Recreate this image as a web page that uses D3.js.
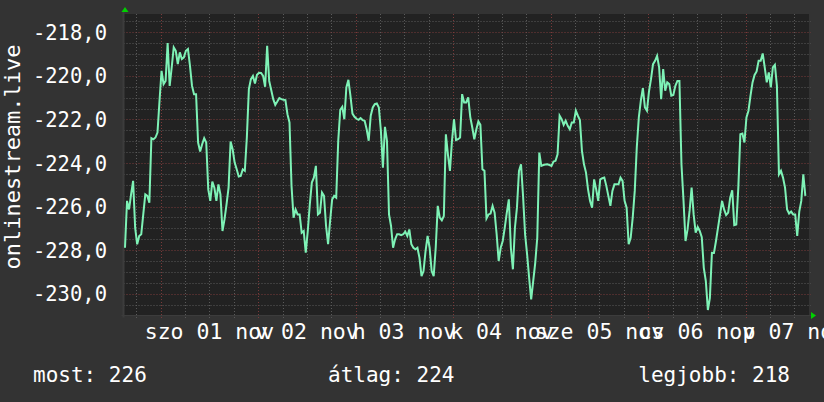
<!DOCTYPE html>
<html><head><meta charset="utf-8">
<script src="https://cdn.jsdelivr.net/npm/d3@7"></script>
<style>html,body{margin:0;padding:0;background:#333333;}svg{display:block}</style>
</head><body>
<svg id="chart" width="824" height="402"></svg>
<script>
// ---- data ----
const seriesName = "onlinestream.live";
const startTime = "2025-10-31T15:12:00Z";
const stepMinutes = 30;
const values = [
-227.89,-225.74,-226.13,-225.44,-224.82,-226.97,-227.73,-227.35,-227.27,-226.36,
-225.44,-225.51,-225.82,-222.86,-222.91,-222.83,-222.60,-221.14,-219.77,-220.38,
-220.23,-218.49,-220.46,-219.61,-218.69,-218.85,-219.46,-218.92,-219.23,-219.15,
-218.85,-218.77,-219.54,-220.46,-220.84,-220.84,-223.06,-223.47,-223.14,-222.86,
-223.06,-225.21,-225.74,-224.85,-225.13,-225.74,-224.98,-225.44,-227.12,-226.59,
-225.90,-225.13,-223.01,-223.37,-223.98,-224.29,-224.62,-224.59,-224.29,-224.36,
-222.83,-220.61,-220.15,-220.00,-220.35,-219.95,-219.86,-219.87,-220.00,-220.50,
-218.62,-220.23,-220.65,-221.07,-221.33,-221.18,-221.02,-221.07,-221.10,-221.11,
-221.76,-222.14,-225.05,-226.51,
-226.13,-226.36,-226.36,-227.20,-227.12,-228.12,-227.12,-225.90,-224.90,-224.67,
-224.13,-226.36,-226.28,-225.36,-225.51,-226.89,-227.73,-226.66,-225.67,-225.51,
-225.59,-222.98,-221.56,-221.42,-221.99,-220.53,-220.18,-220.91,-221.73,-221.88,
-221.97,-222.02,-221.94,-222.03,-222.06,-222.45,-222.98,-221.83,-221.45,-221.30,
-221.27,-221.45,-222.52,-224.21,-222.34,-222.98,-226.36,-226.89,-227.89,-227.50,
-227.27,-227.27,-227.31,-227.27,-227.15,-227.35,-227.05,-227.73,-227.89,-227.96,
-227.89,-228.35,-229.19,-228.96,-228.04,-227.35,-227.89,-228.96,-229.19,-227.89,
-225.97,-226.51,-226.63,-226.43,-222.68,-223.60,-224.36,-222.98,-221.99,-222.95,
-222.91,-222.83,-220.84,-221.22,
-221.22,-220.99,-221.88,-222.37,-222.91,-222.45,-222.09,-222.25,-224.29,-224.36,
-226.54,-226.36,-226.32,-225.97,-226.28,-227.27,-228.50,-227.89,-227.58,-226.97,
-226.28,-225.67,-227.89,-228.88,-226.97,-226.05,-224.36,-224.06,-225.51,-227.27,
-228.19,-229.27,-230.26,-229.42,-228.58,-227.43,-223.52,-224.13,-224.09,-224.07,
-224.06,-224.09,-224.13,-223.93,-223.90,-223.60,-221.83,-221.99,-222.25,-222.06,
-222.29,-222.45,-222.14,-222.14,-221.60,-221.83,-222.03,-223.44,-224.06,-224.44,
-225.21,-225.74,-226.05,-224.75,-225.21,-225.74,-224.75,-224.70,-224.67,-225.05,
-225.51,-225.97,-225.28,-224.98,-224.98,-224.98,-224.67,-224.82,-225.74,-226.05,
-227.73,-227.43,-226.51,-225.28,
-223.29,-221.91,-221.14,-220.56,-221.45,-221.60,-220.72,-220.15,-219.46,-219.31,
-219.08,-219.61,-221.07,-219.69,-220.68,-220.30,-220.38,-220.91,-220.88,-220.46,
-220.23,-220.23,-224.06,-225.71,-227.58,-227.05,-226.20,-225.13,-226.36,-227.20,
-226.94,-227.12,-227.40,-228.81,-229.42,-230.75,-230.19,-228.12,-228.13,-227.58,
-226.97,-226.36,-225.74,-226.13,-226.39,-226.28,-225.59,-225.25,-226.85,-226.82,
-225.13,-222.68,-222.65,-223.06,-221.91,-221.60,-220.91,-220.30,-219.96,-219.80,
-219.31,-219.31,-218.97,-219.61,-220.30,-219.84,-220.53,-219.61,-219.49,-220.46,
-224.52,-224.36,-224.67,-225.13,-226.13,-226.32,-226.23,-226.36,-226.36,-227.35,
-226.23,-225.74,-224.52,-225.51
];
const xDomain = ["2025-10-31T14:50:00Z", "2025-11-07T15:36:00Z"];
const yDomain = [-231.0, -217.16];
const yTicks = [-230, -228, -226, -224, -222, -220, -218];
const dayDates = ["2025-11-01","2025-11-02","2025-11-03","2025-11-04","2025-11-05","2025-11-06","2025-11-07"];
const dayLabels = ["szo 01 nov","v 02 nov","h 03 nov","k 04 nov","sze 05 nov","cs 06 nov","p 07 nov"];
const legendLabels = ["most", "átlag", "legjobb"];
const legendValues = [226, 224, 218];

(function () {
// ---- layout ----
const W = 824, H = 402;
const pL = 123.5, pR = 809, pT = 14, pB = 315.5;
const font = "'DejaVu Sans Mono', monospace";

const svg = d3.select("#chart");
const x = d3.scaleUtc().domain(xDomain.map(d => new Date(d))).range([pL, pR]);
const y = d3.scaleLinear().domain(yDomain).range([pB, pT]);

const t0 = new Date(startTime).getTime();
const data = values.map((v, i) => ({t: new Date(t0 + i * stepMinutes * 60000), v}));

svg.append("rect").attr("width", W).attr("height", H).attr("fill", "#333333");
svg.append("rect").attr("x", pL).attr("y", pT).attr("width", pR - pL).attr("height", pB - pT).attr("fill", "#222222");

// grid
const g = svg.append("g");
const minorY = d3.range(-231, -217, 0.5).filter(v => v > yDomain[0] && v < yDomain[1] && Math.abs(v % 2) > 1e-6);
g.selectAll(".hmin").data(minorY).join("line")
  .attr("x1", pL).attr("x2", pR + 2)
  .attr("y1", d => Math.round(y(d)) + 0.5).attr("y2", d => Math.round(y(d)) + 0.5)
  .attr("stroke", "#5a5a5a").attr("stroke-dasharray", "1,2");
const hours6 = d3.utcHour.every(6).range(x.domain()[0], x.domain()[1]).filter(d => d.getUTCHours() !== 0);
g.selectAll(".vmin").data(hours6).join("line")
  .attr("x1", d => Math.round(x(d)) + 0.5).attr("x2", d => Math.round(x(d)) + 0.5)
  .attr("y1", pT).attr("y2", pB + 3)
  .attr("stroke", "#5a5a5a").attr("stroke-dasharray", "1,2");
g.selectAll(".hmaj").data(yTicks).join("line")
  .attr("x1", pL).attr("x2", pR + 2)
  .attr("y1", d => Math.round(y(d)) + 0.5).attr("y2", d => Math.round(y(d)) + 0.5)
  .attr("stroke", "#7a3a3a").attr("stroke-dasharray", "1,2");
g.selectAll(".vmaj").data(dayDates.map(d => new Date(d + "T00:00:00Z"))).join("line")
  .attr("x1", d => Math.round(x(d)) + 0.5).attr("x2", d => Math.round(x(d)) + 0.5)
  .attr("y1", pT).attr("y2", pB + 3)
  .attr("stroke", "#7a3a3a").attr("stroke-dasharray", "1,2");

// axis lines
svg.append("line").attr("x1", pL).attr("x2", pL).attr("y1", pT - 2).attr("y2", pB + 2).attr("stroke", "#3c3c3c").attr("stroke-width", 2);
svg.append("line").attr("x1", pL - 2).attr("x2", pR + 2).attr("y1", pB).attr("y2", pB).attr("stroke", "#3c3c3c").attr("stroke-width", 1);

// arrows
svg.append("path").attr("d", `M${pL - 2},${pT - 2} L${pL + 5},${pT - 2} L${pL + 1.5},${pT - 7} Z`).attr("fill", "#00d000");
svg.append("path").attr("d", `M${pR + 2},${pB - 3.5} L${pR + 2},${pB + 3.5} L${pR + 7},${pB} Z`).attr("fill", "#00d000");

// series line
const line = d3.line().x(d => x(d.t)).y(d => y(d.v));
svg.append("path").datum(data).attr("d", line)
  .attr("fill", "none").attr("stroke", "#7ef2b6").attr("stroke-width", 2).attr("stroke-linejoin", "miter");

// y labels
svg.selectAll(".yl").data(yTicks).join("text")
  .attr("x", 107).attr("y", d => y(d) + 7.5)
  .attr("text-anchor", "end").attr("fill", "#ffffff")
  .style("font-family", font).style("font-size", "20.5px")
  .text(d => d3.format(".1f")(d).replace("−", "-").replace(".", ","));

// x labels
svg.selectAll(".xl").data(dayDates).join("text")
  .attr("x", d => x(new Date(d + "T12:00:00Z")))
  .attr("y", 338.5)
  .attr("text-anchor", "middle").attr("fill", "#ffffff")
  .style("font-family", font).style("font-size", "21.5px")
  .text((d, i) => dayLabels[i]);

// y title
svg.append("text").attr("transform", "translate(20,157) rotate(-90)")
  .attr("text-anchor", "middle").attr("fill", "#ffffff")
  .style("font-family", font).style("font-size", "22px")
  .text(seriesName);

// legend
const legX = [33, 328, 790];
const legAnchor = ["start", "start", "end"];
svg.selectAll(".lg").data(legendLabels).join("text")
  .attr("x", (d, i) => legX[i]).attr("y", 382)
  .attr("text-anchor", (d, i) => legAnchor[i]).attr("fill", "#ffffff")
  .style("font-family", font).style("font-size", "21px")
  .text((d, i) => `${d}: ${legendValues[i]}`);
})();
</script>
</body></html>
